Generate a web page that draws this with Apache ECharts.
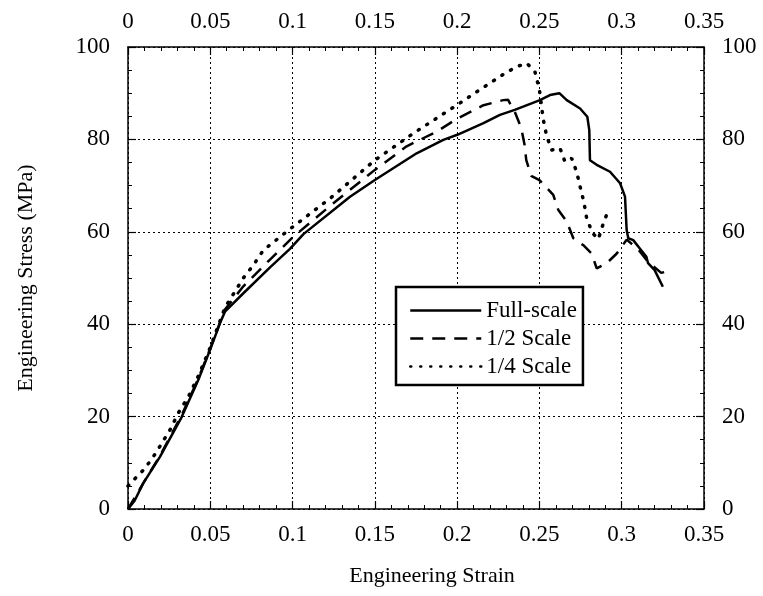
<!DOCTYPE html>
<html>
<head>
<meta charset="utf-8">
<script src="https://cdn.jsdelivr.net/npm/echarts@6/dist/echarts.min.js"></script>
<style>
  html, body { margin: 0; padding: 0; background: #fff; }
  #chart { width: 763px; height: 596px; }
</style>
</head>
<body>
<div id="chart"></div>
<script>
// values (strain, stress in MPa)
const fullStrain = [0, 0.004, 0.0093, 0.0194, 0.0326, 0.0427, 0.0498, 0.056, 0.0589, 0.0701, 0.0863, 0.0984, 0.1066, 0.1349, 0.15, 0.1754, 0.1916, 0.2001, 0.216, 0.226, 0.235, 0.2503, 0.2564, 0.2621, 0.2666, 0.2747, 0.2791, 0.2803, 0.2807, 0.2848, 0.2929, 0.299, 0.302, 0.303, 0.304, 0.307, 0.311, 0.315, 0.316, 0.320, 0.325];
const fullStress = [0, 1.8, 5.6, 11.3, 19.9, 27.9, 34.4, 40.3, 42.7, 46.7, 52.3, 56.3, 59.5, 67.6, 71.2, 77.0, 79.9, 81.0, 83.5, 85.3, 86.4, 88.5, 89.6, 90.0, 88.5, 86.7, 84.9, 82.0, 75.5, 74.5, 73.0, 70.5, 67.6, 60.4, 58.6, 58.2, 56.4, 54.6, 53.2, 51.7, 48.1];

const halfStrain = [0, 0.0093, 0.0194, 0.0326, 0.0427, 0.0498, 0.056, 0.0589, 0.0701, 0.0863, 0.1004, 0.1248, 0.15, 0.1693, 0.1876, 0.2001, 0.216, 0.228, 0.231, 0.233, 0.235, 0.239, 0.241, 0.242, 0.245, 0.25, 0.2584, 0.2615, 0.2666, 0.2706, 0.2767, 0.2817, 0.2848, 0.2909, 0.297, 0.303, 0.31, 0.316, 0.324, 0.329];
const halfStress = [0, 5.6, 11.5, 20.3, 28.2, 34.6, 40.5, 43.2, 48.2, 54.0, 58.9, 66.2, 73.4, 78.5, 81.7, 84.5, 87.4, 88.5, 88.6, 87.1, 86.0, 82.4, 78.8, 75.5, 72.1, 71.2, 68.0, 64.7, 62.2, 58.6, 57.1, 55.3, 52.1, 53.2, 55.3, 58.3, 56.2, 53.5, 51.1, 51.6];

const quarterStrain = [0, 0.0043, 0.0093, 0.0138, 0.0174, 0.0215, 0.0255, 0.0306, 0.0367, 0.043, 0.0498, 0.056, 0.0589, 0.0701, 0.0762, 0.0822, 0.0984, 0.1227, 0.15, 0.1733, 0.1997, 0.2119, 0.229, 0.236, 0.2423, 0.2473, 0.25, 0.2524, 0.2544, 0.2575, 0.2625, 0.2655, 0.2696, 0.2726, 0.2747, 0.2771, 0.2787, 0.2823, 0.2858, 0.2888, 0.2919];
const quarterStress = [5.0, 6.6, 8.4, 10.5, 12.4, 14.8, 17.1, 20.8, 24.3, 29.0, 34.8, 40.8, 43.6, 50.0, 52.8, 56.0, 60.6, 67.2, 75.5, 81.3, 87.4, 90.3, 94.3, 95.7, 96.5, 94.6, 90.7, 84.2, 80.7, 77.7, 78.1, 75.2, 75.9, 73.0, 69.8, 66.3, 62.9, 59.7, 58.4, 61.8, 64.7];

const seriesNames = ["Full-scale", "1/2 Scale", "1/4 Scale"];

function zip(xs, ys) {
  return xs.map((x, i) => [x, ys[i]]);
}

const serif = "Liberation Serif";

// shared axis pieces
function xAxisBase(pos) {
  return {
    type: "value",
    position: pos,
    min: 0,
    max: 0.35,
    interval: 0.05,
    axisLine: { show: true, onZero: false, lineStyle: { color: "#000", width: 1.5 } },
    axisTick: { show: true, inside: true, length: 8, lineStyle: { color: "#000", width: 1.2 } },
    minorTick: { show: true, splitNumber: 5, length: 4, lineStyle: { color: "#000", width: 1 } },
    axisLabel: { color: "#000", fontFamily: serif, fontSize: 23, margin: 14 },
    splitLine: { show: false },
  };
}
function yAxisBase(pos) {
  return {
    type: "value",
    position: pos,
    min: 0,
    max: 100,
    interval: 20,
    axisLine: { show: true, onZero: false, lineStyle: { color: "#000", width: 1.5 } },
    axisTick: { show: true, inside: true, length: 8, lineStyle: { color: "#000", width: 1.2 } },
    minorTick: { show: true, splitNumber: 4, length: 4, lineStyle: { color: "#000", width: 1 } },
    axisLabel: { color: "#000", fontFamily: serif, fontSize: 23, margin: 18 },
    splitLine: { show: false },
  };
}

const chart = echarts.init(document.getElementById("chart"));

const xBottom = xAxisBase("bottom");
xBottom.name = "Engineering Strain";
xBottom.nameLocation = "middle";
xBottom.nameGap = 56;
xBottom.nameTextStyle = { color: "#000", fontFamily: serif, fontSize: 22, padding: [0, 0, 0, 32] };
xBottom.splitLine = { show: true, lineStyle: { color: "#000", type: [2, 3], width: 1 } };

const xTop = xAxisBase("top");

const yLeft = yAxisBase("left");
yLeft.name = "Engineering Stress (MPa)";
yLeft.nameLocation = "middle";
yLeft.nameGap = 91;
yLeft.nameTextStyle = { color: "#000", fontFamily: serif, fontSize: 22 };
yLeft.splitLine = { show: true, lineStyle: { color: "#000", type: [2, 3], width: 1 } };

const yRight = yAxisBase("right");

const option = {
  animation: false,
  backgroundColor: "#fff",
  grid: { left: 128, right: 59, top: 47, bottom: 87, containLabel: false },
  legend: {
    orient: "vertical",
    left: 396,
    top: 287,
    data: seriesNames,
    itemWidth: 71,
    itemHeight: 12,
    itemGap: 5,
    padding: [12, 6, 7, 13],
    backgroundColor: "#fff",
    borderColor: "#000",
    borderWidth: 2.5,
    borderRadius: 0,
    itemStyle: { opacity: 0 },
    lineStyle: { width: 2.5 },
    textStyle: { color: "#000", fontFamily: serif, fontSize: 23 },
  },
  xAxis: [xBottom, xTop],
  yAxis: [yLeft, yRight],
  series: [
    {
      name: seriesNames[0],
      type: "line",
      symbol: "none",
      data: zip(fullStrain, fullStress),
      lineStyle: { color: "#000", width: 2.5 },
      itemStyle: { color: "#000" },
    },
    {
      name: seriesNames[1],
      type: "line",
      symbol: "none",
      data: zip(halfStrain, halfStress),
      lineStyle: { color: "#000", width: 2.5, type: [13, 9] },
      itemStyle: { color: "#000" },
    },
    {
      name: seriesNames[2],
      type: "line",
      symbol: "none",
      data: zip(quarterStrain, quarterStress),
      lineStyle: { color: "#000", width: 3.5, type: [1, 9], cap: "round" },
      itemStyle: { color: "#000" },
    },
  ],
};

chart.setOption(option);
</script>
</body>
</html>
